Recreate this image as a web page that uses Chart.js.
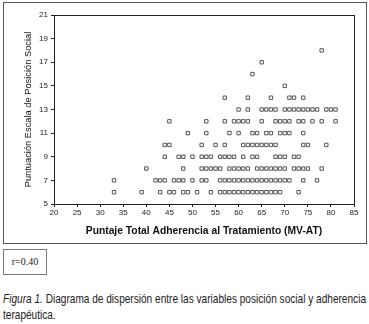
<!DOCTYPE html>
<html><head><meta charset="utf-8">
<script src="https://cdn.jsdelivr.net/npm/chart.js@4"></script>
<style>
html,body{margin:0;padding:0;background:#fff;width:369px;height:324px;overflow:hidden;}
#frame{position:absolute;left:3px;top:2px;width:364px;height:242px;border:1px solid #555;box-sizing:border-box;}
#wrap{position:absolute;left:0;top:0;width:369px;height:245px;}
#rbox{position:absolute;left:3px;top:249px;width:44px;height:26px;border:1px solid #777;box-sizing:border-box;font:10px "Liberation Serif",serif;color:#222;text-align:center;line-height:24px;}
#cap{position:absolute;left:3px;top:291px;font-family:"Liberation Sans Narrow","Liberation Sans",Arial,sans-serif;font-size:13px;color:#222;}
#cap div{white-space:nowrap;line-height:16px;height:16px;transform-origin:0 0;}
</style></head>
<body>
<div id="frame"></div>
<div id="wrap"><canvas id="c"></canvas></div>
<div id="rbox">r=0.40</div>
<div id="cap"><div id="l1"><i>Figura 1.</i> Diagrama de dispersión entre las variables posición social y adherencia</div><div id="l2">terapéutica.</div></div>
<script>
// Puntaje Total Adherencia (x) for each Puntuación de Posición Social (y) level
const scoreLevels = [6, 7, 8, 9, 10, 11, 12, 13, 14, 15, 16, 17, 18];
const adherenceAt6  = [33, 39, 43, 45, 46, 48, 49, 51, 54, 56, 57, 58, 59, 60, 61, 62, 63, 64, 65, 66, 67, 68, 69, 73];
const adherenceAt7  = [33, 42, 43, 44, 46, 47, 48, 50, 52, 53, 56, 57, 58, 59, 60, 61, 62, 63, 64, 65, 66, 67, 68, 69, 70, 71, 74, 77];
const adherenceAt8  = [40, 48, 52, 53, 54, 55, 56, 58, 59, 60, 61, 62, 64, 65, 66, 67, 68, 69, 70, 72, 73, 74, 75, 78];
const adherenceAt9  = [44, 47, 48, 50, 52, 53, 54, 56, 57, 58, 59, 61, 63, 64, 68, 69, 70, 72, 73];
const adherenceAt10 = [44, 45, 52, 55, 57, 61, 62, 63, 64, 65, 66, 67, 68, 74, 75, 79];
const adherenceAt11 = [49, 53, 58, 60, 63, 64, 66, 67, 69, 70, 71, 74];
const adherenceAt12 = [45, 53, 57, 59, 60, 61, 62, 65, 68, 69, 70, 71, 73, 74, 76, 78, 81];
const adherenceAt13 = [60, 62, 65, 66, 67, 68, 70, 71, 72, 73, 74, 75, 76, 77, 79, 80, 81];
const adherenceAt14 = [57, 62, 67, 71, 72, 74];
const adherenceAt15 = [70];
const adherenceAt16 = [63];
const adherenceAt17 = [65];
const adherenceAt18 = [78];
const xTickValues = [20, 25, 30, 35, 40, 45, 50, 55, 60, 65, 70, 75, 80, 85];
const yTickValues = [5, 7, 9, 11, 13, 15, 17, 19, 21];
const xTitle = 'Puntaje Total Adherencia al Tratamiento (MV-AT)';
const yTitle = 'Puntuación Escala de Posición Social';

const rows = [adherenceAt6, adherenceAt7, adherenceAt8, adherenceAt9, adherenceAt10, adherenceAt11,
  adherenceAt12, adherenceAt13, adherenceAt14, adherenceAt15, adherenceAt16, adherenceAt17, adherenceAt18];
const points = [];
rows.forEach((arr, i) => arr.forEach(x => points.push({x: x, y: scoreLevels[i]})));

const framePlugin = {
  id: 'frame',
  afterDraw(chart) {
    const a = chart.chartArea, ctx = chart.ctx;
    ctx.save();
    ctx.strokeStyle = '#222';
    ctx.lineWidth = 1;
    ctx.strokeRect(Math.round(a.left) + 0.5, Math.round(a.top) + 0.5, Math.round(a.right - a.left), Math.round(a.bottom - a.top));
    ctx.restore();
  }
};

new Chart(document.getElementById('c'), {
  type: 'scatter',
  data: {datasets: [{
    data: points,
    pointStyle: 'rect',
    pointRadius: 2.4,
    pointHoverRadius: 2.4,
    pointBorderWidth: 1,
    pointBorderColor: '#555',
    pointBackgroundColor: '#fff'
  }]},
  options: {
    responsive: true,
    maintainAspectRatio: false,
    animation: false,
    events: [],
    layout: {padding: {left: 23, top: 15, right: 15, bottom: 8}},
    plugins: {legend: {display: false}, tooltip: {enabled: false}},
    scales: {
      x: {
        type: 'linear', min: 20, max: 85,
        afterBuildTicks: s => { s.ticks = xTickValues.map(v => ({value: v})); },
        afterFit: s => { s.height = 33; },
        grid: {display: true, drawOnChartArea: false, drawTicks: true, tickLength: 3, color: '#222'},
        border: {display: true, color: '#222'},
        ticks: {padding: 1, maxRotation: 0, autoSkip: false, color: '#222', font: {family: '"Liberation Sans", Arial', size: 8}},
        title: {display: true, text: xTitle, color: '#111', padding: 0, font: {family: '"Liberation Sans", Arial', size: 10.3, weight: 'bold'}}
      },
      y: {
        type: 'linear', min: 5, max: 21,
        afterBuildTicks: s => { s.ticks = yTickValues.map(v => ({value: v})); },
        afterFit: s => { s.width = 31; },
        grid: {display: true, drawOnChartArea: false, drawTicks: true, tickLength: 3, color: '#222'},
        border: {display: true, color: '#222'},
        ticks: {padding: 3, autoSkip: false, color: '#222', font: {family: '"Liberation Sans", Arial', size: 8}},
        title: {display: true, text: yTitle, color: '#111', padding: 0, font: {family: '"Liberation Sans", Arial', size: 9.3}}
      }
    }
  },
  plugins: [framePlugin]
});

// fit caption line 1 to the width of the figure
const l1 = document.getElementById('l1'), l2 = document.getElementById('l2');
const w = l1.getBoundingClientRect().width;
const k = 363 / w;
l1.style.transform = 'scaleX(' + k + ')';
l2.style.transform = 'scaleX(' + k + ')';
</script>
</body></html>
